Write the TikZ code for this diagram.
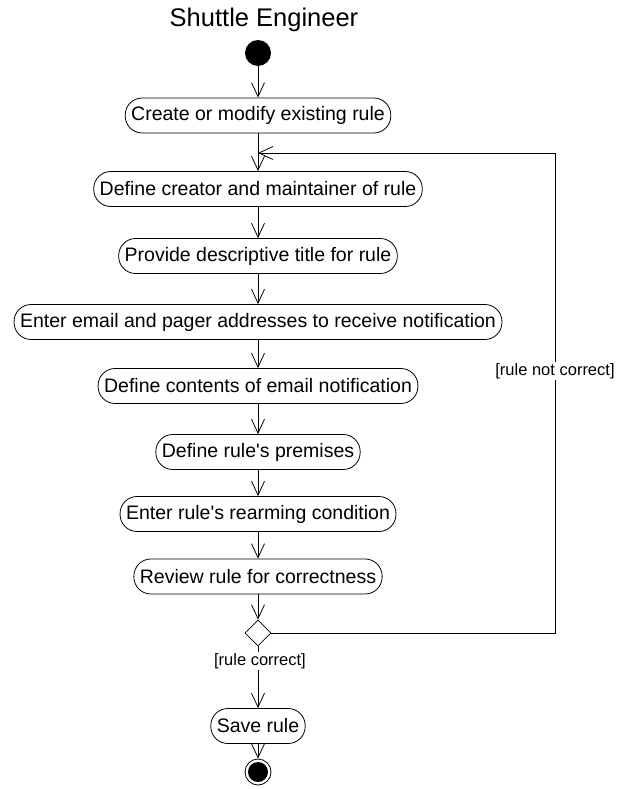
\documentclass[tikz,border=0pt]{standalone}
\usepackage{fontspec}
\setmainfont{Liberation Sans}[Ligatures=TeXOff]
\usetikzlibrary{arrows.meta,shapes.geometric}
\begin{document}
\begin{tikzpicture}[x=1pt,y=-1pt,
  act/.style={draw, line width=0.8pt, rounded corners=17pt, minimum height=35pt, inner xsep=6pt, inner ysep=2pt, font=\fontsize{19.5}{22}\selectfont},
  flow/.style={-{Straight Barb[length=14pt,width=13pt]}, line width=0.8pt},
  lbl/.style={fill=white, font=\fontsize{16.5}{19}\selectfont, inner sep=1pt}]
\useasboundingbox (0,0) rectangle (626,789);
\node[font=\fontsize{25.5}{28}\selectfont] (title) at (264,20) {Shuttle Engineer};
\node[circle, fill=black, minimum size=26pt, inner sep=0pt] (start) at (258,53) {};
\node[act] (a1) at (258,115.5) {Create or modify existing rule};
\node[act] (a2) at (258,189) {Define creator and maintainer of rule};
\node[act] (a3) at (258,256) {Provide descriptive title for rule};
\node[act] (a4) at (258,322) {Enter email and pager addresses to receive notification};
\node[act] (a5) at (258,386) {Define contents of email notification};
\node[act] (a6) at (258,452) {Define rule's premises};
\node[act] (a7) at (258,514) {Enter rule's rearming condition};
\node[act] (a8) at (258,576.5) {Review rule for correctness};
\node[diamond, draw, line width=0.8pt, minimum width=26pt, minimum height=26pt, inner sep=0pt] (dec) at (258,633) {};
\node[act] (save) at (258,726) {Save rule};
\node[circle, draw, line width=0.8pt, minimum size=26pt, inner sep=0pt] (end) at (258,772) {};
\node[circle, fill=black, minimum size=20pt, inner sep=0pt] (endin) at (258,772) {};
\coordinate (loopc) at (555,153);
\coordinate (merge) at (258,153);
\draw[flow] (start) -- (a1);
\draw[flow] (a1) -- (a2);
\draw[flow] (a2) -- (a3);
\draw[flow] (a3) -- (a4);
\draw[flow] (a4) -- (a5);
\draw[flow] (a5) -- (a6);
\draw[flow] (a6) -- (a7);
\draw[flow] (a7) -- (a8);
\draw[flow] (a8) -- (dec);
\draw[flow] (dec) -- (save);
\draw[flow] (save) -- (end);
\draw[flow] (dec.east) -| (loopc) -- (merge);
\node[lbl] (nc) at (555,371) {[rule not correct]};
\node[lbl] (rc) at (260,661) {[rule correct]};
\end{tikzpicture}
\end{document}
